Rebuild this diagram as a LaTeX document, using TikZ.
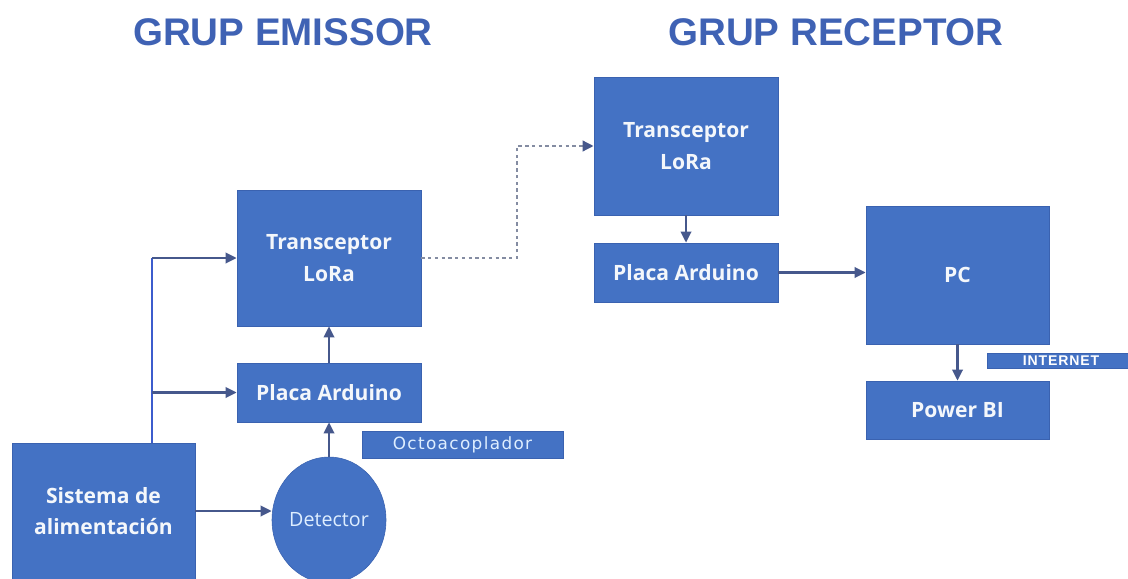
\documentclass[tikz,border=0pt]{standalone}
\usepackage{fontspec}
\usepackage{xcolor}
\usepackage{tikz}
\usetikzlibrary{arrows.meta,shapes.geometric}
\setmainfont{Open Sans}
\newfontfamily\boxfont{Open Sans}
\newfontfamily\titlefont{Liberation Sans Bold}
\newfontfamily\tagfont{DejaVu Sans}[LetterSpace=8]
\newfontfamily\nettagfont{Liberation Sans Bold}[LetterSpace=6]
\definecolor{blockfill}{RGB}{68,114,196}
\definecolor{blockedge}{RGB}{58,98,176}
\definecolor{titleblue}{RGB}{63,98,180}
\definecolor{arrowgrey}{RGB}{70,88,140}
\definecolor{busblue}{RGB}{60,92,205}
\definecolor{radiogrey}{RGB}{132,140,162}
\definecolor{paletext}{RGB}{222,238,255}

\begin{document}
\begin{tikzpicture}[
  block/.style={draw=blockedge, line width=0.4pt, fill=blockfill, inner sep=0,
                text=white!94!blockfill, align=center, font=\boxfont\bfseries\fontsize{15}{22.5}\selectfont},
  sensor/.style={ellipse, draw=blockedge, line width=0.4pt, fill=blockfill, inner sep=0,
                 text=paletext, font=\fontsize{14}{16}\selectfont},
  tag/.style={draw=blockedge, line width=0.4pt, fill=blockfill, inner sep=0, text=paletext},
  grouptitle/.style={text=titleblue, font=\titlefont\fontsize{27.4}{32}\selectfont},
  arr/.style={draw=arrowgrey, line width=1.9pt, -{Triangle[length=2.8mm,width=2.6mm]}},
  wire/.style={draw=busblue, line width=1.9pt},
  radio/.style={draw=radiogrey, line width=2pt, dash pattern=on 2.4pt off 2.4pt,
                -{Triangle[length=2.8mm,width=2.6mm,color=arrowgrey]}},
]
\useasboundingbox (0,0) rectangle (28.2,14.45);
\clip (0,0) rectangle (28.2,14.45);
% ---- group titles
\node[grouptitle] (tEmi) at (7.075,13.65) {GRUP EMISSOR};
\node[grouptitle] (tRec) at (20.9,13.65) {GRUP RECEPTOR};
% ---- emitter side
\node[block, minimum width=4.6cm, minimum height=3.4cm] (txE) at (8.225,8.0) {Transceptor\\LoRa};
\node[block, minimum width=4.6cm, minimum height=1.475cm] (ardE) at (8.225,4.6375) {Placa Arduino};
\node[block, minimum width=4.575cm, minimum height=3.4cm] (alim) at (2.5875,1.675) {Sistema de\\alimentación};
\node[sensor, minimum width=2.85cm, minimum height=3.15cm] (det) at (8.225,1.45) {Detector};
\node[tag, minimum width=5.025cm, minimum height=0.675cm, font=\tagfont\fontsize{12}{13}\selectfont]
  (opto) at (11.5625,3.3375) {Octoacoplador};
% ---- receiver side
\node[block, minimum width=4.6cm, minimum height=3.45cm] (txR) at (17.15,10.8) {Transceptor\\LoRa};
\node[block, minimum width=4.6cm, minimum height=1.475cm] (ardR) at (17.15,7.6375) {Placa Arduino};
\node[block, minimum width=4.575cm, minimum height=3.45cm] (pc) at (23.9375,7.575) {PC};
\node[block, minimum width=4.575cm, minimum height=1.45cm] (pbi) at (23.9375,4.2) {Power BI};
\node[tag, minimum width=3.7cm, minimum height=0.375cm, text=white, font=\nettagfont\fontsize{10}{10}\selectfont]
  (inet) at (26.525,5.4375) {INTERNET};
% ---- power bus
\coordinate (busB) at (3.8,3.375);
\coordinate (busT) at (3.8,8.0);
\draw[wire] (busB) -- (busT);
\draw[arr] (busT) -- (txE.west);
\draw[arr] (busB |- ardE.west) -- (ardE.west);
\draw[arr] (alim.east) -- (alim.east -| det.west);
% ---- signal path
\draw[arr] (det.north) -- (ardE.south);
\draw[arr] (ardE.north) -- (txE.south);
\coordinate (hop) at (12.925,8.0);
\draw[radio] (txE.east) -- (hop) |- (txR.west);
\draw[arr] (txR.south) -- (ardR.north);
\draw[arr] (ardR.east) -- (ardR.east -| pc.west);
\draw[arr] (pc.south) -- (pbi.north);
\end{tikzpicture}
\end{document}
